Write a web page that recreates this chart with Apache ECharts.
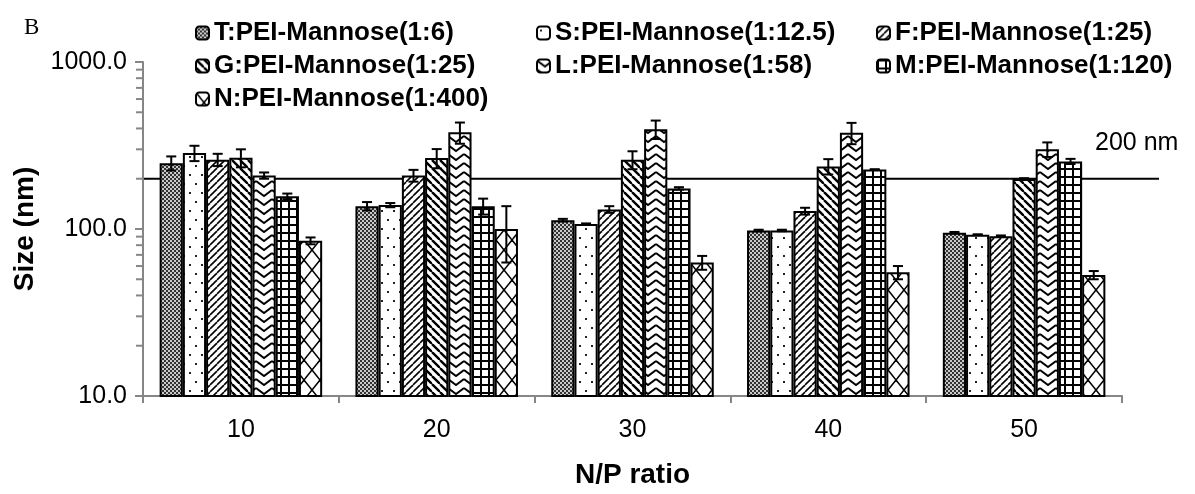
<!DOCTYPE html>
<html>
<head>
<meta charset="utf-8">
<script src="https://cdn.jsdelivr.net/npm/echarts@6/dist/echarts.min.js"></script>
<style>
html, body { margin: 0; padding: 0; background: #fff; }
#chart { width: 1195px; height: 494px; }
</style>
</head>
<body>
<div id="chart"></div>
<script>
var categories = ['10', '20', '30', '40', '50'];
var seriesNames = ['T:PEI-Mannose(1:6)', 'S:PEI-Mannose(1:12.5)', 'F:PEI-Mannose(1:25)',
  'G:PEI-Mannose(1:25)', 'L:PEI-Mannose(1:58)', 'M:PEI-Mannose(1:120)', 'N:PEI-Mannose(1:400)'];
var patternKinds = ['T', 'S', 'F', 'G', 'L', 'M', 'N'];

// mean size (nm) per N/P ratio
var sizeT = [248, 137, 113, 98, 95];
var sizeS = [285, 139, 107, 98, 92.5];
var sizeF = [260, 209, 131, 128, 90.5];
var sizeG = [267, 266, 260, 237, 199.5];
var sizeL = [209, 379, 396, 377, 300];
var sizeM = [157, 137, 175, 227, 254];
var sizeN = [85, 100, 63, 55, 53];

// error bars (+/-)
var errT = [24, 8, 2, 1, 1];
var errS = [30, 4, 1, 1, 0.5];
var errF = [22, 17, 6, 6, 1];
var errG = [33, 35, 32, 25, 2];
var errL = [9, 55, 50, 55, 30];
var errM = [6, 15, 3, 1, 9];
var errN = [4, 37, 6, 5, 3];

var minorTicks = [20, 30, 40, 50, 60, 70, 80, 90, 200, 300, 400, 500, 600, 700, 800, 900];
var refLine = 200;

var sizes = [sizeT, sizeS, sizeF, sizeG, sizeL, sizeM, sizeN];
var errs = [errT, errS, errF, errG, errL, errM, errN];

var catGap = 0.17;
var axisGray = '#868686';

function pattern(kind) {
  var c = document.createElement('canvas');
  var ctx = c.getContext('2d');
  var w = 8, h = 8;
  if (kind == 'T') { w = 4; h = 4; }
  if (kind == 'S') { w = 12; h = 18; }
  if (kind == 'F') { w = 7; h = 7; }
  if (kind == 'L') { w = 16; h = 9; }
  if (kind == 'N') { w = 16; h = 20; }
  c.width = w; c.height = h;
  ctx.fillStyle = '#fff';
  ctx.fillRect(0, 0, w, h);
  ctx.strokeStyle = '#000';
  ctx.fillStyle = '#000';
  if (kind == 'T') {
    ctx.fillStyle = '#cacaca';
    ctx.fillRect(0, 0, 4, 4);
    ctx.fillStyle = '#333';
    ctx.fillRect(0, 0, 2, 2);
    ctx.fillRect(2, 2, 2, 2);
  } else if (kind == 'S') {
    ctx.fillStyle = '#222';
    ctx.fillRect(3, 3, 2, 2);
    ctx.fillRect(9, 12, 2, 2);
  } else if (kind == 'F') {
    ctx.lineWidth = 1.6;
    [-7, 0, 7].forEach(function(o) {
      ctx.beginPath(); ctx.moveTo(o, 7); ctx.lineTo(o + 7, 0); ctx.stroke();
    });
  } else if (kind == 'G') {
    ctx.lineWidth = 2.4;
    [-8, 0, 8].forEach(function(o) {
      ctx.beginPath(); ctx.moveTo(o, 0); ctx.lineTo(o + 8, 8); ctx.stroke();
    });
  } else if (kind == 'L') {
    ctx.lineWidth = 2;
    ctx.beginPath(); ctx.moveTo(0, 1); ctx.lineTo(8, 7); ctx.lineTo(16, 1); ctx.stroke();
  } else if (kind == 'M') {
    ctx.fillRect(0, 0, 8, 2);
    ctx.fillRect(0, 0, 2, 8);
  } else if (kind == 'N') {
    ctx.lineWidth = 1.5;
    ctx.beginPath(); ctx.moveTo(0, 0); ctx.lineTo(16, 20); ctx.stroke();
    ctx.beginPath(); ctx.moveTo(16, 0); ctx.lineTo(0, 20); ctx.stroke();
  }
  return { image: c, repeat: 'repeat' };
}

var errData = [];
for (var s = 0; s < sizes.length; s++) {
  for (var c = 0; c < categories.length; c++) {
    errData.push([c, s, sizes[s][c], errs[s][c]]);
  }
}
var minorData = minorTicks.map(function(v) { return [0, v]; });

function renderErr(params, api) {
  var c = api.value(0), s = api.value(1), v = api.value(2), e = api.value(3);
  var band = params.coordSys.width / categories.length;
  var groupW = band * (1 - catGap);
  var barW = groupW / seriesNames.length;
  var x = api.coord([c, v])[0] - groupW / 2 + (s + 0.5) * barW;
  var y1 = api.coord([c, v + e])[1];
  var y2 = api.coord([c, v - e])[1];
  var cap = 5;
  var st = { stroke: '#000', lineWidth: 2 };
  return { type: 'group', children: [
    { type: 'line', shape: { x1: x, y1: y1, x2: x, y2: y2 }, style: st },
    { type: 'line', shape: { x1: x - cap, y1: y1, x2: x + cap, y2: y1 }, style: st },
    { type: 'line', shape: { x1: x - cap, y1: y2, x2: x + cap, y2: y2 }, style: st }
  ]};
}

function renderMinor(params, api) {
  var y = api.coord([0, api.value(1)])[1];
  var x = params.coordSys.x;
  return { type: 'line', shape: { x1: x - 7, y1: y, x2: x, y2: y },
    style: { stroke: axisGray, lineWidth: 2 } };
}

var series = seriesNames.map(function(name, i) {
  return {
    name: name,
    type: 'bar',
    data: sizes[i],
    barGap: '0%',
    barCategoryGap: (catGap * 100) + '%',
    itemStyle: { color: pattern(patternKinds[i]), borderColor: '#000', borderWidth: 2 },
    emphasis: { disabled: true }
  };
});
series.push({
  type: 'custom',
  name: 'err',
  data: errData,
  encode: { x: 0, y: 2 },
  renderItem: renderErr,
  z: 5,
  silent: true
});
series.push({
  type: 'custom',
  name: 'minor',
  data: minorData,
  encode: { x: 0, y: 1 },
  renderItem: renderMinor,
  z: 5,
  silent: true
});

var colX = [195, 536, 876];
var rowY = [20, 53, 86];
var legends = seriesNames.map(function(name, i) {
  return {
    data: [name],
    left: colX[i % 3],
    top: rowY[Math.floor(i / 3)],
    padding: 0,
    itemWidth: 13,
    itemHeight: 13,
    selectedMode: false,
    textStyle: { fontFamily: 'Liberation Sans', fontWeight: 'bold', fontSize: 26, color: '#000' }
  };
});

var chart = echarts.init(document.getElementById('chart'));
chart.setOption({
  animation: false,
  title: {
    text: 'B',
    left: 19,
    top: 11,
    textStyle: { fontFamily: 'Liberation Serif', fontWeight: 'normal', fontSize: 23, color: '#000' }
  },
  legend: legends,
  grid: { left: 143, right: 73, top: 62, bottom: 94, containLabel: false },
  xAxis: {
    type: 'category',
    data: categories,
    name: 'N/P ratio',
    nameLocation: 'middle',
    nameGap: 65,
    nameTextStyle: { fontFamily: 'Liberation Sans', fontWeight: 'bold', fontSize: 28, color: '#000' },
    axisLine: { lineStyle: { color: axisGray, width: 2 } },
    axisTick: { show: true, length: 7, lineStyle: { color: axisGray, width: 2 } },
    axisLabel: { margin: 22, fontFamily: 'Liberation Sans', fontSize: 25, color: '#000' }
  },
  yAxis: {
    type: 'log',
    logBase: 10,
    min: 10,
    max: 1000,
    name: 'Size (nm)',
    nameLocation: 'middle',
    nameGap: 104,
    nameTextStyle: { fontFamily: 'Liberation Sans', fontWeight: 'bold', fontSize: 28, color: '#000' },
    axisLine: { show: true, lineStyle: { color: axisGray, width: 2 } },
    axisTick: { show: true, length: 8, lineStyle: { color: axisGray, width: 2 } },
    splitLine: { show: false },
    axisLabel: {
      margin: 16,
      fontFamily: 'Liberation Sans',
      fontSize: 25,
      color: '#000',
      formatter: function(v) { return Number(v).toFixed(1); }
    }
  },
  series: series
});

var y200 = chart.convertToPixel({ yAxisIndex: 0 }, refLine);
chart.setOption({
  graphic: [
    { type: 'line', z: 0, shape: { x1: 143, y1: y200, x2: 1159, y2: y200 },
      style: { stroke: '#000', lineWidth: 2 }, silent: true },
    { type: 'text', z: 10, x: 1095, y: y200 - 36,
      style: { text: '200 nm', fontFamily: 'Liberation Sans', fontSize: 25, fill: '#000',
        verticalAlign: 'middle' }, silent: true }
  ]
});
</script>
</body>
</html>
